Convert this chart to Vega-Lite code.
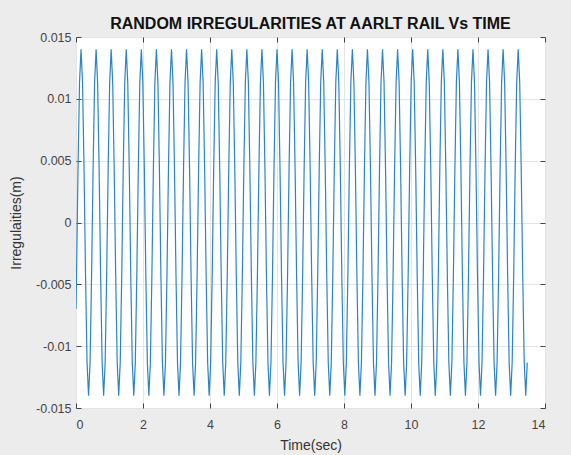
{
"$schema": "https://vega.github.io/schema/vega-lite/v6.json",
"width": 469, "height": 371,
"autosize": {"type": "none"},
"padding": {"left": 76, "top": 37, "right": 26, "bottom": 47},
"background": "#ececec",
"view": {"fill": "white", "stroke": "#444444", "strokeWidth": 1},
"title": {"text": "RANDOM IRREGULARITIES AT AARLT RAIL Vs TIME", "font": "Liberation Sans", "fontSize": 16, "fontWeight": "bold", "color": "#111111", "anchor": "middle", "offset": -1},
"data": {"values": [
{"t":0,"y":-0.007},
{"t":0.015,"y":-0.00433},{"t":0.06,"y":0.00433},{"t":0.105,"y":0.01133},{"t":0.15,"y":0.014},{"t":0.195,"y":0.01133},{"t":0.24,"y":0.00433},{"t":0.285,"y":-0.00433},{"t":0.33,"y":-0.01133},{"t":0.375,"y":-0.014},{"t":0.42,"y":-0.01133},
{"t":0.465,"y":-0.00433},{"t":0.51,"y":0.00433},{"t":0.555,"y":0.01133},{"t":0.6,"y":0.014},{"t":0.645,"y":0.01133},{"t":0.69,"y":0.00433},{"t":0.735,"y":-0.00433},{"t":0.78,"y":-0.01133},{"t":0.825,"y":-0.014},{"t":0.87,"y":-0.01133},
{"t":0.915,"y":-0.00433},{"t":0.96,"y":0.00433},{"t":1.005,"y":0.01133},{"t":1.05,"y":0.014},{"t":1.095,"y":0.01133},{"t":1.14,"y":0.00433},{"t":1.185,"y":-0.00433},{"t":1.23,"y":-0.01133},{"t":1.275,"y":-0.014},{"t":1.32,"y":-0.01133},
{"t":1.365,"y":-0.00433},{"t":1.41,"y":0.00433},{"t":1.455,"y":0.01133},{"t":1.5,"y":0.014},{"t":1.545,"y":0.01133},{"t":1.59,"y":0.00433},{"t":1.635,"y":-0.00433},{"t":1.68,"y":-0.01133},{"t":1.725,"y":-0.014},{"t":1.77,"y":-0.01133},
{"t":1.815,"y":-0.00433},{"t":1.86,"y":0.00433},{"t":1.905,"y":0.01133},{"t":1.95,"y":0.014},{"t":1.995,"y":0.01133},{"t":2.04,"y":0.00433},{"t":2.085,"y":-0.00433},{"t":2.13,"y":-0.01133},{"t":2.175,"y":-0.014},{"t":2.22,"y":-0.01133},
{"t":2.265,"y":-0.00433},{"t":2.31,"y":0.00433},{"t":2.355,"y":0.01133},{"t":2.4,"y":0.014},{"t":2.445,"y":0.01133},{"t":2.49,"y":0.00433},{"t":2.535,"y":-0.00433},{"t":2.58,"y":-0.01133},{"t":2.625,"y":-0.014},{"t":2.67,"y":-0.01133},
{"t":2.715,"y":-0.00433},{"t":2.76,"y":0.00433},{"t":2.805,"y":0.01133},{"t":2.85,"y":0.014},{"t":2.895,"y":0.01133},{"t":2.94,"y":0.00433},{"t":2.985,"y":-0.00433},{"t":3.03,"y":-0.01133},{"t":3.075,"y":-0.014},{"t":3.12,"y":-0.01133},
{"t":3.165,"y":-0.00433},{"t":3.21,"y":0.00433},{"t":3.255,"y":0.01133},{"t":3.3,"y":0.014},{"t":3.345,"y":0.01133},{"t":3.39,"y":0.00433},{"t":3.435,"y":-0.00433},{"t":3.48,"y":-0.01133},{"t":3.525,"y":-0.014},{"t":3.57,"y":-0.01133},
{"t":3.615,"y":-0.00433},{"t":3.66,"y":0.00433},{"t":3.705,"y":0.01133},{"t":3.75,"y":0.014},{"t":3.795,"y":0.01133},{"t":3.84,"y":0.00433},{"t":3.885,"y":-0.00433},{"t":3.93,"y":-0.01133},{"t":3.975,"y":-0.014},{"t":4.02,"y":-0.01133},
{"t":4.065,"y":-0.00433},{"t":4.11,"y":0.00433},{"t":4.155,"y":0.01133},{"t":4.2,"y":0.014},{"t":4.245,"y":0.01133},{"t":4.29,"y":0.00433},{"t":4.335,"y":-0.00433},{"t":4.38,"y":-0.01133},{"t":4.425,"y":-0.014},{"t":4.47,"y":-0.01133},
{"t":4.515,"y":-0.00433},{"t":4.56,"y":0.00433},{"t":4.605,"y":0.01133},{"t":4.65,"y":0.014},{"t":4.695,"y":0.01133},{"t":4.74,"y":0.00433},{"t":4.785,"y":-0.00433},{"t":4.83,"y":-0.01133},{"t":4.875,"y":-0.014},{"t":4.92,"y":-0.01133},
{"t":4.965,"y":-0.00433},{"t":5.01,"y":0.00433},{"t":5.055,"y":0.01133},{"t":5.1,"y":0.014},{"t":5.145,"y":0.01133},{"t":5.19,"y":0.00433},{"t":5.235,"y":-0.00433},{"t":5.28,"y":-0.01133},{"t":5.325,"y":-0.014},{"t":5.37,"y":-0.01133},
{"t":5.415,"y":-0.00433},{"t":5.46,"y":0.00433},{"t":5.505,"y":0.01133},{"t":5.55,"y":0.014},{"t":5.595,"y":0.01133},{"t":5.64,"y":0.00433},{"t":5.685,"y":-0.00433},{"t":5.73,"y":-0.01133},{"t":5.775,"y":-0.014},{"t":5.82,"y":-0.01133},
{"t":5.865,"y":-0.00433},{"t":5.91,"y":0.00433},{"t":5.955,"y":0.01133},{"t":6.0,"y":0.014},{"t":6.045,"y":0.01133},{"t":6.09,"y":0.00433},{"t":6.135,"y":-0.00433},{"t":6.18,"y":-0.01133},{"t":6.225,"y":-0.014},{"t":6.27,"y":-0.01133},
{"t":6.315,"y":-0.00433},{"t":6.36,"y":0.00433},{"t":6.405,"y":0.01133},{"t":6.45,"y":0.014},{"t":6.495,"y":0.01133},{"t":6.54,"y":0.00433},{"t":6.585,"y":-0.00433},{"t":6.63,"y":-0.01133},{"t":6.675,"y":-0.014},{"t":6.72,"y":-0.01133},
{"t":6.765,"y":-0.00433},{"t":6.81,"y":0.00433},{"t":6.855,"y":0.01133},{"t":6.9,"y":0.014},{"t":6.945,"y":0.01133},{"t":6.99,"y":0.00433},{"t":7.035,"y":-0.00433},{"t":7.08,"y":-0.01133},{"t":7.125,"y":-0.014},{"t":7.17,"y":-0.01133},
{"t":7.215,"y":-0.00433},{"t":7.26,"y":0.00433},{"t":7.305,"y":0.01133},{"t":7.35,"y":0.014},{"t":7.395,"y":0.01133},{"t":7.44,"y":0.00433},{"t":7.485,"y":-0.00433},{"t":7.53,"y":-0.01133},{"t":7.575,"y":-0.014},{"t":7.62,"y":-0.01133},
{"t":7.665,"y":-0.00433},{"t":7.71,"y":0.00433},{"t":7.755,"y":0.01133},{"t":7.8,"y":0.014},{"t":7.845,"y":0.01133},{"t":7.89,"y":0.00433},{"t":7.935,"y":-0.00433},{"t":7.98,"y":-0.01133},{"t":8.025,"y":-0.014},{"t":8.07,"y":-0.01133},
{"t":8.115,"y":-0.00433},{"t":8.16,"y":0.00433},{"t":8.205,"y":0.01133},{"t":8.25,"y":0.014},{"t":8.295,"y":0.01133},{"t":8.34,"y":0.00433},{"t":8.385,"y":-0.00433},{"t":8.43,"y":-0.01133},{"t":8.475,"y":-0.014},{"t":8.52,"y":-0.01133},
{"t":8.565,"y":-0.00433},{"t":8.61,"y":0.00433},{"t":8.655,"y":0.01133},{"t":8.7,"y":0.014},{"t":8.745,"y":0.01133},{"t":8.79,"y":0.00433},{"t":8.835,"y":-0.00433},{"t":8.88,"y":-0.01133},{"t":8.925,"y":-0.014},{"t":8.97,"y":-0.01133},
{"t":9.015,"y":-0.00433},{"t":9.06,"y":0.00433},{"t":9.105,"y":0.01133},{"t":9.15,"y":0.014},{"t":9.195,"y":0.01133},{"t":9.24,"y":0.00433},{"t":9.285,"y":-0.00433},{"t":9.33,"y":-0.01133},{"t":9.375,"y":-0.014},{"t":9.42,"y":-0.01133},
{"t":9.465,"y":-0.00433},{"t":9.51,"y":0.00433},{"t":9.555,"y":0.01133},{"t":9.6,"y":0.014},{"t":9.645,"y":0.01133},{"t":9.69,"y":0.00433},{"t":9.735,"y":-0.00433},{"t":9.78,"y":-0.01133},{"t":9.825,"y":-0.014},{"t":9.87,"y":-0.01133},
{"t":9.915,"y":-0.00433},{"t":9.96,"y":0.00433},{"t":10.005,"y":0.01133},{"t":10.05,"y":0.014},{"t":10.095,"y":0.01133},{"t":10.14,"y":0.00433},{"t":10.185,"y":-0.00433},{"t":10.23,"y":-0.01133},{"t":10.275,"y":-0.014},{"t":10.32,"y":-0.01133},
{"t":10.365,"y":-0.00433},{"t":10.41,"y":0.00433},{"t":10.455,"y":0.01133},{"t":10.5,"y":0.014},{"t":10.545,"y":0.01133},{"t":10.59,"y":0.00433},{"t":10.635,"y":-0.00433},{"t":10.68,"y":-0.01133},{"t":10.725,"y":-0.014},{"t":10.77,"y":-0.01133},
{"t":10.815,"y":-0.00433},{"t":10.86,"y":0.00433},{"t":10.905,"y":0.01133},{"t":10.95,"y":0.014},{"t":10.995,"y":0.01133},{"t":11.04,"y":0.00433},{"t":11.085,"y":-0.00433},{"t":11.13,"y":-0.01133},{"t":11.175,"y":-0.014},{"t":11.22,"y":-0.01133},
{"t":11.265,"y":-0.00433},{"t":11.31,"y":0.00433},{"t":11.355,"y":0.01133},{"t":11.4,"y":0.014},{"t":11.445,"y":0.01133},{"t":11.49,"y":0.00433},{"t":11.535,"y":-0.00433},{"t":11.58,"y":-0.01133},{"t":11.625,"y":-0.014},{"t":11.67,"y":-0.01133},
{"t":11.715,"y":-0.00433},{"t":11.76,"y":0.00433},{"t":11.805,"y":0.01133},{"t":11.85,"y":0.014},{"t":11.895,"y":0.01133},{"t":11.94,"y":0.00433},{"t":11.985,"y":-0.00433},{"t":12.03,"y":-0.01133},{"t":12.075,"y":-0.014},{"t":12.12,"y":-0.01133},
{"t":12.165,"y":-0.00433},{"t":12.21,"y":0.00433},{"t":12.255,"y":0.01133},{"t":12.3,"y":0.014},{"t":12.345,"y":0.01133},{"t":12.39,"y":0.00433},{"t":12.435,"y":-0.00433},{"t":12.48,"y":-0.01133},{"t":12.525,"y":-0.014},{"t":12.57,"y":-0.01133},
{"t":12.615,"y":-0.00433},{"t":12.66,"y":0.00433},{"t":12.705,"y":0.01133},{"t":12.75,"y":0.014},{"t":12.795,"y":0.01133},{"t":12.84,"y":0.00433},{"t":12.885,"y":-0.00433},{"t":12.93,"y":-0.01133},{"t":12.975,"y":-0.014},{"t":13.02,"y":-0.01133},
{"t":13.065,"y":-0.00433},{"t":13.11,"y":0.00433},{"t":13.155,"y":0.01133},{"t":13.2,"y":0.014},{"t":13.245,"y":0.01133},{"t":13.29,"y":0.00433},{"t":13.335,"y":-0.00433},{"t":13.38,"y":-0.01133},{"t":13.425,"y":-0.014},{"t":13.47,"y":-0.01133}
]},
"layer": [
{
"mark": {"type": "line", "color": "#2a84c6", "strokeWidth": 1.2, "clip": true},
"encoding": {
"x": {"field": "t", "type": "quantitative", "scale": {"domain": [0, 14], "nice": false, "zero": false},
"axis": {"orient": "bottom", "values": [0,2,4,6,8,10,12,14], "title": "Time(sec)", "grid": true, "gridColor": "#e4e4e4", "domain": false, "tickSize": -5, "tickColor": "#444444", "labelFont": "Liberation Sans", "labelFontSize": 12.5, "labelColor": "#444444", "labelPadding": 15, "titleFont": "Liberation Sans", "titleFontSize": 14, "titleFontWeight": "normal", "titleColor": "#333333", "titlePadding": 8}},
"y": {"field": "y", "type": "quantitative", "scale": {"domain": [-0.015, 0.015], "nice": false, "zero": false},
"axis": {"orient": "left", "values": [-0.015,-0.01,-0.005,0,0.005,0.01,0.015], "labelExpr": "replace(format(datum.value, '~g'), '\u2212', '-')", "title": "Irregulaities(m)", "grid": true, "gridColor": "#e4e4e4", "domain": false, "tickSize": -5, "tickColor": "#444444", "labelFont": "Liberation Sans", "labelFontSize": 12.5, "labelColor": "#444444", "labelPadding": 10, "titleFont": "Liberation Sans", "titleFontSize": 14, "titleFontWeight": "normal", "titleColor": "#333333", "titlePadding": 12}}
}
},
{
"mark": {"type": "line", "opacity": 0},
"encoding": {
"x": {"field": "t", "type": "quantitative", "axis": {"orient": "top", "values": [0,2,4,6,8,10,12,14], "labels": false, "title": null, "grid": false, "domain": false, "tickSize": -5, "tickColor": "#444444"}},
"y": {"field": "y", "type": "quantitative", "axis": {"orient": "right", "values": [-0.015,-0.01,-0.005,0,0.005,0.01,0.015], "labels": false, "title": null, "grid": false, "domain": false, "tickSize": -5, "tickColor": "#444444"}}
}
}
],
"resolve": {"axis": {"x": "independent", "y": "independent"}}
}
